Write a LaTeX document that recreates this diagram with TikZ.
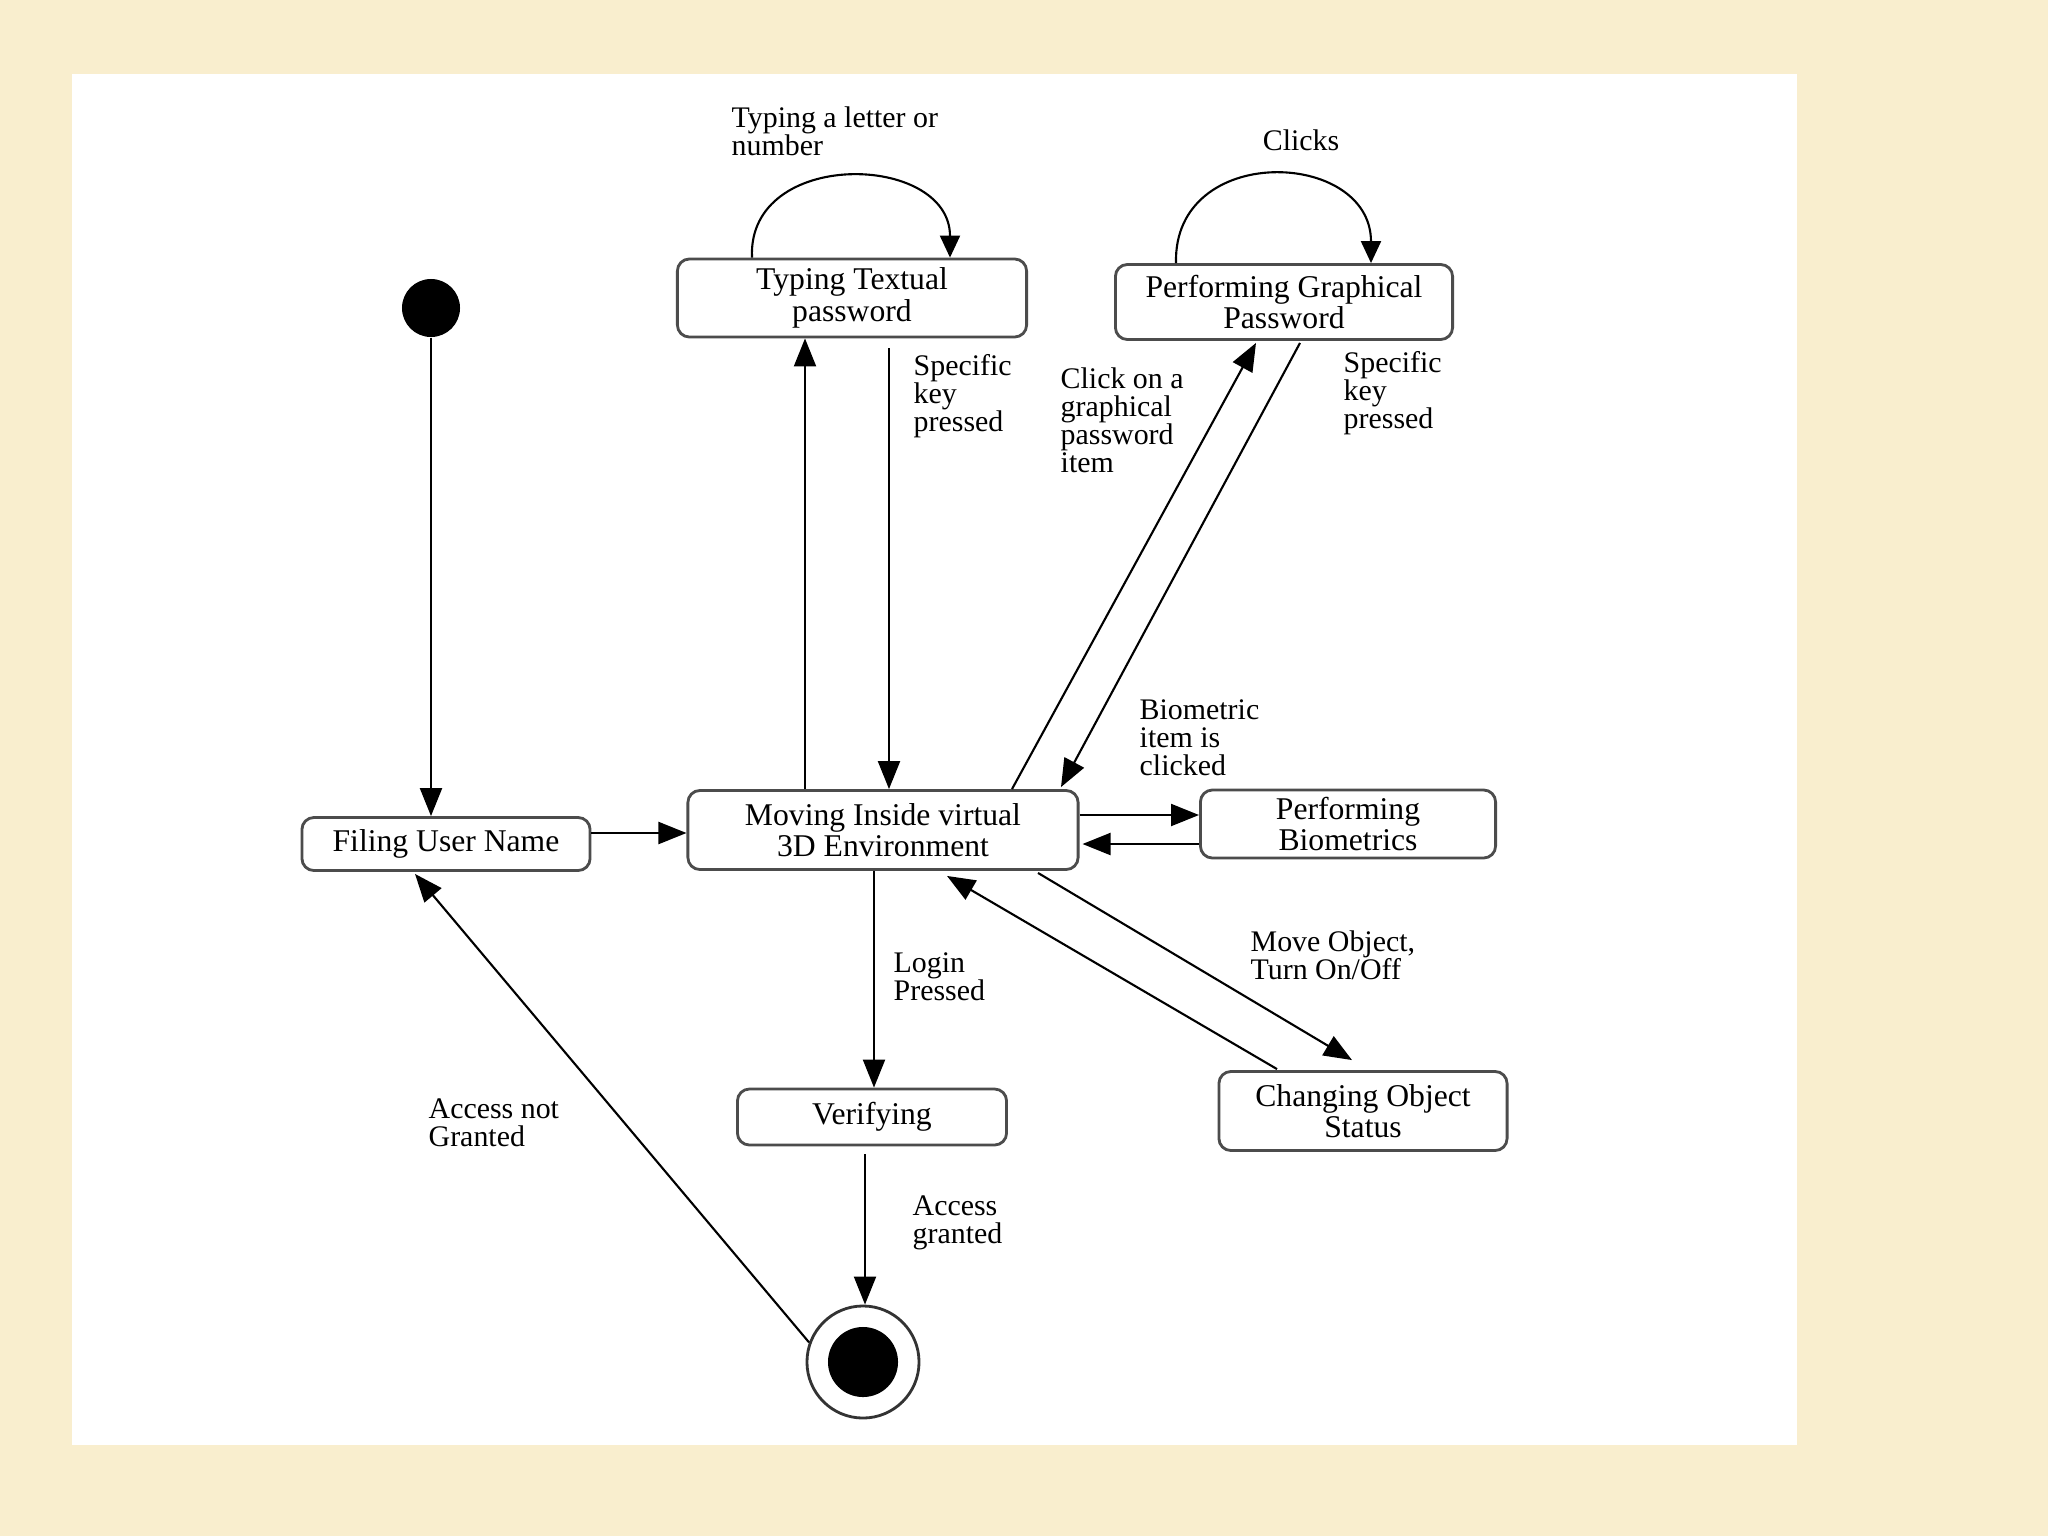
\documentclass[tikz,border=0pt]{standalone}
\usepackage{fontspec}
\setmainfont{Liberation Serif}
\usetikzlibrary{arrows.meta,calc}

\definecolor{parchment}{RGB}{249,238,206}

\begin{document}
\begin{tikzpicture}[x=0.01cm,y=-0.01cm,
  state/.style={draw=black!70,line width=0.8pt,rounded corners=0.12cm,fill=white,align=center,inner sep=0pt,font=\fontsize{9}{9}\selectfont},
  lbl/.style={anchor=west,align=left,inner sep=0pt,font=\fontsize{8.5}{8}\selectfont},
  arr/.style={line width=0.6pt,-{Triangle[length=0.28cm,width=0.22cm]}},
  selfloop/.style={line width=0.6pt,-{Triangle[length=0.22cm,width=0.2cm]}}]
\fill[parchment] (0,0) rectangle (2048,1536);
\fill[white] (72,74) rectangle (1797,1445);

\node[circle,fill=black,minimum size=0.58cm,inner sep=0pt] (init) at (431,308) {};
\node[state,minimum width=3.49cm,minimum height=0.78cm] (typ) at (852,298) {Typing Textual\\password};
\node[state,minimum width=3.37cm,minimum height=0.75cm] (gra) at (1284,302) {Performing Graphical\\Password};
\node[state,minimum width=2.88cm,minimum height=0.53cm] (usr) at (446,844) {Filing User Name};
\node[state,minimum width=3.90cm,minimum height=0.79cm] (mov) at (883,830) {Moving Inside virtual\\3D Environment};
\node[state,minimum width=2.95cm,minimum height=0.68cm] (bio) at (1348,824) {Performing\\Biometrics};
\node[state,minimum width=2.88cm,minimum height=0.79cm] (chg) at (1363,1111) {Changing Object\\Status};
\node[state,minimum width=2.69cm,minimum height=0.56cm] (ver) at (872,1117) {Verifying};
\node[circle,draw=black!80,line width=0.8pt,fill=white,minimum size=1.12cm,inner sep=0pt] (fin) at (863,1362) {};
\node[circle,fill=black,minimum size=0.7cm,inner sep=0pt] (fincore) at (fin) {};

\draw[arr] (init.south) -- (init.south |- usr.north);
\draw[arr] ($(usr.east)+(0,-11)$) -- ($(mov.west)+(0,3)$);
\draw[arr] ($(mov.north)+(-78,0)$) -- ($(typ.south)+(-47,0)$);
\draw[arr] ($(typ.south)+(37,10)$) -- ($(mov.north)+(6,0)$);
\draw[selfloop] ($(typ.north)+(-100,0)$) .. controls +(-5,-110) and +(0,-105) .. ($(typ.north)+(98,0)$);
\draw[selfloop] ($(gra.north)+(-108,0)$) .. controls +(-3,-121) and +(0,-114) .. ($(gra.north)+(87,0)$);
\draw[arr] ($(mov.north)+(129,0)$) -- ($(gra.south)+(-28,2)$);
\draw[arr] ($(gra.south)+(16,2)$) -- ($(mov.north)+(178,-2)$);
\draw[arr] ($(mov.east)+(0,-15)$) -- ($(bio.west)+(0,-9)$);
\draw[arr] ($(bio.west)+(0,20)$) -- ($(mov.east)+(3,14)$);
\draw[arr] ($(mov.south)+(155,2)$) -- ($(chg.north)+(-11,-10)$);
\draw[arr] ($(chg.north)+(-86,-1)$) -- ($(mov.south)+(64,5)$);
\draw[arr] ($(mov.south)+(-9,0)$) -- ($(ver.north)+(2,0)$);
\draw[arr] ($(ver.south)+(-7,8)$) -- ($(fin.north)+(2,0)$);
\draw[arr] (fin.160) -- ($(usr.south)+(-31,2)$);

\node[lbl] (ltyp) at (731,131) {Typing a letter or\\number};
\node[lbl,anchor=center] (lgra) at (1301,140) {Clicks};
\node[lbl] (lkey1) at (913,396) {Specific\\key\\pressed};
\node[lbl] (lclick) at (1060,420) {Click on a\\graphical\\password\\item};
\node[lbl] (lkey2) at (1343,393) {Specific\\key\\pressed};
\node[lbl] (lbio) at (1139,738) {Biometric\\item is\\clicked};
\node[lbl] (lchg) at (1250,955) {Move Object,\\Turn On/Off};
\node[lbl] (llog) at (893,977) {Login\\Pressed};
\node[lbl] (lno) at (428,1123) {Access not\\Granted};
\node[lbl] (lyes) at (912,1223) {Access\\granted};
\end{tikzpicture}
\end{document}
